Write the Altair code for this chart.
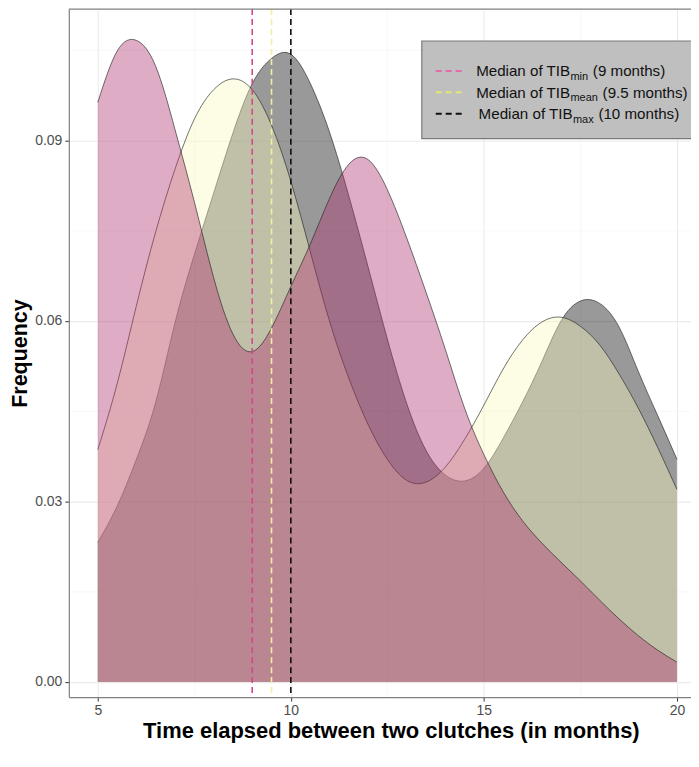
import altair as alt
import pandas as pd

# ---------------- data ----------------
months = [5.0, 5.5, 6.0, 6.5, 7.0, 7.5, 8.0, 8.5, 9.0, 9.5, 10.0, 10.5, 11.0, 11.5,
          12.0, 12.5, 13.0, 13.5, 14.0, 14.5, 15.0, 15.5, 16.0, 16.5, 17.0, 17.5,
          18.0, 18.5, 19.0, 19.5, 20.0]

tib_min = [0.0963, 0.1048, 0.1066, 0.1023, 0.0918, 0.0798, 0.0672, 0.0578, 0.0549,
           0.0588, 0.0657, 0.0727, 0.0803, 0.0860, 0.0868, 0.0818, 0.0738, 0.0648,
           0.0553, 0.0455, 0.0378, 0.0316, 0.0268, 0.0231, 0.0199, 0.0168, 0.0136,
           0.0105, 0.0077, 0.0053, 0.0033]

tib_mean = [0.0386, 0.0495, 0.0625, 0.0748, 0.0852, 0.0935, 0.0984, 0.1002, 0.0984,
            0.0925, 0.0832, 0.0716, 0.0600, 0.0505, 0.0428, 0.0370, 0.0335, 0.0332,
            0.0357, 0.0403, 0.0460, 0.0520, 0.0568, 0.0598, 0.0606, 0.0591, 0.0560,
            0.0512, 0.0455, 0.0390, 0.0320]

tib_max = [0.0232, 0.0292, 0.0370, 0.0465, 0.0597, 0.0710, 0.0812, 0.0912, 0.0994,
           0.1036, 0.1043, 0.0995, 0.0914, 0.0808, 0.0690, 0.0570, 0.0463, 0.0385,
           0.0344, 0.0334, 0.0355, 0.0405, 0.0465, 0.0532, 0.0600, 0.0633, 0.0629,
           0.0590, 0.0516, 0.0443, 0.0370]

median_values = [9.0, 9.5, 10.0]
median_colors = ["#d1488c", "#f2eea0", "#111111"]
key_colors = ["#e36aab", "#e6e676", "#111111"]
legend_main = ["Median of TIB", "Median of TIB", "Median of TIB"]
legend_sub = ["min", "mean", "max"]
legend_tail = ["(9 months)", "(9.5 months)", "(10 months)"]

x_ticks = [5, 7.5, 10, 12.5, 15, 17.5, 20]
y_ticks = [0.0, 0.015, 0.03, 0.045, 0.06, 0.075, 0.09, 0.105]

FONT = "Liberation Sans"
W, H = 624, 690          # plot area
PAD_L, PAD_B = 61, 46    # room for axes (autosize none)

# ---------------- scales / axes ----------------
xscale = alt.Scale(domain=[4.25, 20.365], nice=False, zero=False)
yscale = alt.Scale(domain=[-0.0025, 0.1118], nice=False, zero=False)

xaxis = alt.Axis(
    values=x_ticks,
    labelExpr="datum.value % 5 == 0 ? datum.label : ''",
    tickOpacity={"condition": {"test": "datum.value % 5 != 0", "value": 0}, "value": 1},
    gridColor={"condition": {"test": "datum.value % 5 != 0", "value": "#f3f3f3"}, "value": "#ebebeb"},
    gridWidth={"condition": {"test": "datum.value % 5 != 0", "value": 0.6}, "value": 1.1},
    labelFont=FONT, labelFontSize=14, labelColor="#4d4d4d", labelPadding=2,
    labelFlush=False,
    tickColor="#333333", tickSize=4, tickWidth=1,
    domainColor="#808080", domainWidth=1.2,
    titleFont=FONT, titleFontSize=22, titleFontWeight="bold", titleColor="#000000",
    titlePadding=4, titleX=323,
)
yaxis = alt.Axis(
    values=y_ticks,
    labelExpr="round(datum.value*1000) % 30 == 0 ? format(datum.value, '.2f') : ''",
    tickOpacity={"condition": {"test": "round(datum.value*1000) % 30 != 0", "value": 0}, "value": 1},
    gridColor={"condition": {"test": "round(datum.value*1000) % 30 != 0", "value": "#f3f3f3"}, "value": "#ebebeb"},
    gridWidth={"condition": {"test": "round(datum.value*1000) % 30 != 0", "value": 0.6}, "value": 1.1},
    labelFont=FONT, labelFontSize=14, labelColor="#4d4d4d", labelPadding=3,
    labelFlush=False,
    tickColor="#333333", tickSize=4, tickWidth=1,
    domainColor="#808080", domainWidth=1.2,
    titleFont=FONT, titleFontSize=21.5, titleFontWeight="bold", titleColor="#000000",
    titlePadding=3,
)

XT = "Time elapsed between two clutches (in months)"
YT = "Frequency"


def X(field):
    return alt.X(field, type="quantitative", scale=xscale, axis=xaxis, title=XT)


def Y(field):
    return alt.Y(field, type="quantitative", scale=yscale, axis=yaxis, title=YT)


# ---------------- density layers ----------------
series = [("max", tib_max, "#000000"), ("mean", tib_mean, "#fbfbbf"), ("min", tib_min, "#b0306e")]
layers = []
for name, vals, col in series:
    d = pd.DataFrame({"x": months, "y": vals})
    area = alt.Chart(d).mark_area(color=col, opacity=0.4, interpolate="natural").encode(
        x=X("x"), y=Y("y"), y2=alt.datum(0))
    line = alt.Chart(d).mark_line(color="#222222", opacity=0.8, strokeWidth=0.8,
                                  interpolate="natural").encode(x=X("x"), y=Y("y"))
    layers += [area, line]

# median dashed lines
for v, c in zip(median_values, median_colors):
    dm = pd.DataFrame({"m": [v]})
    layers.append(alt.Chart(dm).mark_rule(color=c, strokeWidth=1.6, strokeDash=[6, 4]).encode(x=X("m")))

dummy = pd.DataFrame({"a": [0]})
# top panel border
layers.append(alt.Chart(dummy).mark_rule(color="#808080", strokeWidth=1.2).encode(
    x=alt.value(0), x2=alt.value(W), y=alt.value(0)))

# ---------------- legend (manual, with subscripts) ----------------
AW = {" ": 278, "(": 333, ")": 333, ".": 278, "0": 556, "1": 556, "5": 556, "9": 556,
      "M": 833, "e": 556, "d": 556, "i": 222, "a": 556, "n": 556, "o": 556, "f": 278,
      "T": 611, "I": 278, "B": 667, "m": 833, "x": 500, "t": 278, "h": 556, "s": 500}


def tw(s, size):
    return sum(AW.get(ch, 556) for ch in s) * size / 1000.0


layers.append(alt.Chart(dummy).mark_rect(fill="#bfbfbf", stroke="#7a7a7a", strokeWidth=1.2,
                                         clip=True).encode(
    x=alt.value(354), x2=alt.value(W + 3), y=alt.value(32), y2=alt.value(130)))

row_key_y = [62, 83.5, 105]
row_base = [67.5, 89, 110.5]
row_x0 = [408.5, 408.5, 411]
MAIN_FS, SUB_FS = 15.2, 11
for i in range(3):
    layers.append(alt.Chart(dummy).mark_rule(color=key_colors[i], strokeWidth=2,
                                             strokeDash=[6, 4]).encode(
        x=alt.value(368), x2=alt.value(396), y=alt.value(row_key_y[i])))
    x0 = row_x0[i]
    x1 = x0 + tw(legend_main[i], MAIN_FS)
    x2 = x1 + tw(legend_sub[i], SUB_FS) + tw(" ", MAIN_FS) + 0.5
    layers.append(alt.Chart(dummy).mark_text(text=legend_main[i], align="left",
                                             baseline="alphabetic", font=FONT,
                                             fontSize=MAIN_FS, color="#111111").encode(
        x=alt.value(x0), y=alt.value(row_base[i])))
    layers.append(alt.Chart(dummy).mark_text(text=legend_sub[i], align="left",
                                             baseline="alphabetic", font=FONT,
                                             fontSize=SUB_FS, color="#111111").encode(
        x=alt.value(x1), y=alt.value(row_base[i] + 3.5)))
    layers.append(alt.Chart(dummy).mark_text(text=legend_tail[i], align="left",
                                             baseline="alphabetic", font=FONT,
                                             fontSize=MAIN_FS, color="#111111").encode(
        x=alt.value(x2), y=alt.value(row_base[i])))

chart = alt.layer(*layers).properties(
    width=W, height=H,
    autosize=alt.AutoSizeParams(type="none"),
    padding={"left": PAD_L, "top": 0, "right": 0, "bottom": PAD_B},
    background="white",
).configure_view(stroke=None)

chart.save("out.html", embed_options={"renderer": "svg", "actions": False})
